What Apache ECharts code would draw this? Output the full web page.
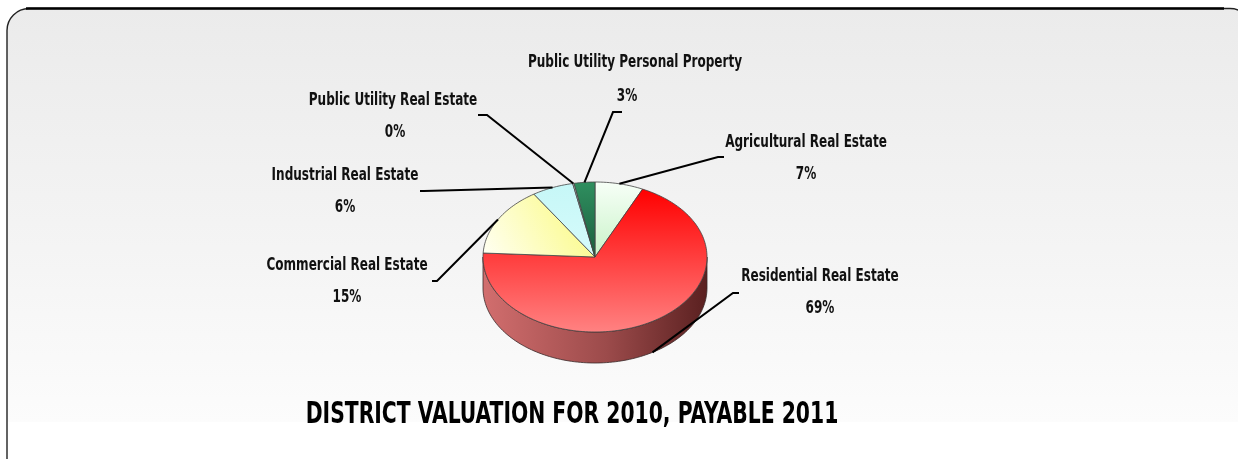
<!DOCTYPE html>
<html>
<head>
<meta charset="utf-8">
<script src="https://cdn.jsdelivr.net/npm/echarts@6/dist/echarts.min.js"></script>
<style>
html,body{margin:0;padding:0;background:#fff;}
#main{width:1238px;height:459px;}
</style>
</head>
<body>
<div id="main"></div>
<script>
// ---- data ----
const categories = [
  'Agricultural Real Estate',
  'Residential Real Estate',
  'Commercial Real Estate',
  'Industrial Real Estate',
  'Public Utility Real Estate',
  'Public Utility Personal Property'
];
const values = [7.0, 69.0, 15.0, 6.0, 0.2, 3.0];
const chartTitle = 'DISTRICT VALUATION FOR 2010, PAYABLE 2011';

// ---- styling / layout ----
const FONT = '"Liberation Sans Narrow","DejaVu Sans Condensed","Arial Narrow",Arial,sans-serif';
const topColors = [
  ['#f7fff7', '#c9f3c9'],
  ['#ff0000', '#ff8282'],
  ['#fafa78', '#fffff4'],
  ['#c6f7f7', '#d6fbfb'],
  ['#cfcfcf', '#bfbfbf'],
  ['#2f8f5f', '#1b5e3e']
];
const sideColors = [
  ['#b8d8b8', '#6e8e6e'],
  ['#d26e6e', '#5a2020'],
  ['#d8d890', '#8a8a40'],
  ['#a0d0d0', '#507878'],
  ['#999999', '#666666'],
  ['#1f6a45', '#0f3a24']
];
// label layout: [elbowX, elbowY, endX, endY, labelX, labelY, pctX, pctY]
const labelLayout = [
  [718, 157, 724, 157, 806, 143, 806, 175],
  [733, 293, 739, 293, 820, 277, 820, 309],
  [437, 281, 432, 281, 347, 266, 347, 298],
  [424, 191, 420, 191, 345, 176, 345, 208],
  [487, 115, 478, 115, 393, 101, 395, 133],
  [613, 112, 622, 112, 635, 63, 627, 97]
];
const PIE = { cx: 595, cy: 257, rx: 112, ry: 75, depth: 31 };

const total = values.reduce((a, b) => a + b, 0);
const starts = [];
(function () { let acc = 0; values.forEach(v => { starts.push(acc / total * 360); acc += v; }); })();

function pt(deg, dy) {
  const r = deg * Math.PI / 180;
  return [PIE.cx + PIE.rx * Math.sin(r), PIE.cy - PIE.ry * Math.cos(r) + (dy || 0)];
}
function arcPts(a, b, dy) {
  const pts = [];
  const n = Math.max(2, Math.ceil(Math.abs(b - a) / 1.5));
  for (let i = 0; i <= n; i++) pts.push(pt(a + (b - a) * i / n, dy));
  return pts;
}
function mix(c1, c2, t) {
  const p = c => { c = c.replace('#', ''); return [0, 2, 4].map(k => parseInt(c.substr(k, 2), 16)); };
  const A = p(c1), B = p(c2);
  return 'rgb(' + A.map((x, k) => Math.round(x + (B[k] - x) * t)).join(',') + ')';
}

function renderItem(params, api) {
  const i = params.dataIndex;
  const v = api.value(0);
  const a = starts[i];
  const b = a + v / total * 360;
  const children = [];
  // side wall (front half only: 90..270 deg clockwise from top)
  const sa = Math.max(a, 90), sb = Math.min(b, 270);
  if (sb > sa) {
    const topArc = arcPts(sa, sb, 0);
    const botArc = arcPts(sb, sa, PIE.depth);
    children.push({
      type: 'polygon', z2: 1,
      shape: { points: topArc.concat(botArc) },
      style: {
        fill: new echarts.graphic.LinearGradient(0, 0, 1, 0, [
          { offset: 0, color: sideColors[i][0] },
          { offset: 0.55, color: mix(sideColors[i][0], sideColors[i][1], 0.45) },
          { offset: 1, color: sideColors[i][1] }
        ]),
        stroke: '#3a2a2a', lineWidth: 0.8
      }
    });
  }
  // top face
  const top = [[PIE.cx, PIE.cy]].concat(arcPts(a, b, 0));
  children.push({
    type: 'polygon', z2: 2,
    shape: { points: top },
    style: {
      fill: new echarts.graphic.LinearGradient(i === 2 ? 1 : 0, 0, 0, 1, [
        { offset: 0, color: topColors[i][0] },
        { offset: 1, color: topColors[i][1] }
      ]),
      stroke: '#444', lineWidth: 0.8
    }
  });
  // leader line
  const mid = (a + b) / 2;
  const cosm = Math.cos(mid * Math.PI / 180);
  const start = pt(mid, cosm < -0.5 ? PIE.depth : 0);
  const L = labelLayout[i];
  children.push({
    type: 'polyline', z2: 3,
    shape: { points: [start, [L[0], L[1]], [L[2], L[3]]] },
    style: { stroke: '#000', lineWidth: 2, fill: null }
  });
  const pct = Math.round(v / total * 100) + '%';
  children.push({
    type: 'text', z2: 4, x: L[4], y: L[5], scaleY: 1.25,
    style: { text: categories[i], font: 'bold 13.4px ' + FONT, fill: '#111', align: 'center', verticalAlign: 'middle' }
  });
  children.push({
    type: 'text', z2: 4, x: L[6], y: L[7], scaleY: 1.25,
    style: { text: pct, font: 'bold 13.4px ' + FONT, fill: '#111', align: 'center', verticalAlign: 'middle' }
  });
  return { type: 'group', children: children };
}

const chart = echarts.init(document.getElementById('main'), null, { renderer: 'canvas' });
chart.setOption({
  animation: false,
  graphic: [
    {
      type: 'rect', z: -10, silent: true,
      shape: { x: 7, y: 8.5, width: 1245, height: 480, r: 22 },
      style: {
        fill: new echarts.graphic.LinearGradient(0, 0, 0, 1, [
          { offset: 0, color: '#ebebeb' },
          { offset: 0.5, color: '#f4f4f4' },
          { offset: 0.86, color: '#fcfcfc' },
          { offset: 0.861, color: '#ffffff' },
          { offset: 1, color: '#ffffff' }
        ]),
        stroke: '#222', lineWidth: 1.4
      }
    },
    {
      type: 'line', z: -9, silent: true,
      shape: { x1: 26, y1: 8.5, x2: 1224, y2: 8.5 },
      style: { stroke: '#000', lineWidth: 2.5 }
    },
    {
      type: 'text', z: 5, x: 572, y: 415, scaleY: 1.35,
      style: {
        text: chartTitle, font: 'bold 22.6px ' + FONT, fill: '#000',
        align: 'center', verticalAlign: 'middle'
      }
    }
  ],
  series: [{
    type: 'custom',
    coordinateSystem: 'none',
    renderItem: renderItem,
    data: values.map((v, i) => ({ name: categories[i], value: [v, i] }))
  }]
});
</script>
</body>
</html>
